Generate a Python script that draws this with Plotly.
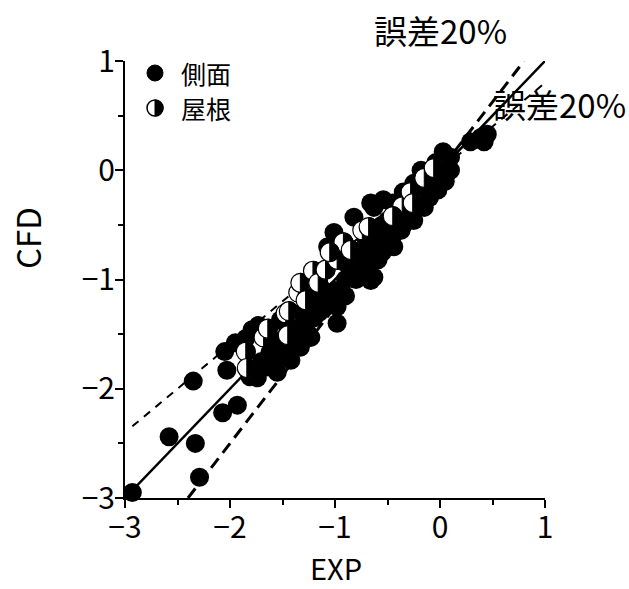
import plotly.graph_objects as go

# Measured (EXP) vs simulated (CFD) pressure coefficients
side_exp = [-2.93, -2.58, -2.33, -2.29, -2.35, -2.03, -2.07, -1.93, -2.05, -1.95,
            -1.85, -1.79, -1.73, -1.74, -1.81, -1.55, -1.42, -1.62, -1.52, -1.26,
            -1.33, -1.23, -0.98, -1.07, -0.98, -1.14, -1.14, -0.63, -0.66, -0.82,
            -0.69, -0.59, -0.44, -0.37, -0.25, -0.50, -0.40, -0.54, -0.15, -0.02,
            -0.25, -0.18, 0.10, -0.04, 0.10, 0.03, 0.29, 0.39, 0.45, 0.42,
            -0.63, -0.82, -1.01, -1.07, -0.66, -0.28, -1.50, -1.40, -1.30, -1.20,
            -1.10, -0.90, -0.80, -0.90, -0.70, -0.60, -0.50, -0.30, -0.10, 0.00,
            -1.60, -1.70, -1.45, -1.35, -1.00, -0.55, -0.33, -0.20, -1.65, -1.25,
            -1.00, -0.90, -0.80, -0.75, -0.70, -0.55, -0.45, -0.35, -0.30, -0.20,
            -0.10, 0.05, 0.00, -1.20, -1.30, -1.45, -1.60, -1.50, -0.65, -0.55,
            -0.45, -0.35, -0.20, -1.15]
side_cfd = [-2.95, -2.44, -2.50, -2.81, -1.93, -1.83, -2.22, -2.15, -1.66, -1.58,
            -1.54, -1.46, -1.42, -1.90, -1.89, -1.85, -1.74, -1.67, -1.37, -1.49,
            -1.62, -1.53, -1.40, -1.22, -1.25, -1.07, -1.22, -0.98, -1.01, -0.89,
            -0.80, -0.82, -0.70, -0.55, -0.46, -0.46, -0.37, -0.27, -0.34, -0.18,
            -0.12, 0.00, 0.00, 0.07, 0.12, 0.17, 0.26, 0.30, 0.33, 0.26,
            -0.34, -0.43, -0.57, -0.70, -0.30, -0.39, -1.55, -1.45, -1.30, -1.35,
            -1.15, -1.00, -0.75, -0.85, -0.65, -0.60, -0.60, -0.25, -0.10, -0.05,
            -1.60, -1.75, -1.65, -1.50, -1.10, -0.70, -0.45, -0.25, -1.80, -1.30,
            -1.20, -1.15, -1.00, -0.95, -0.90, -0.75, -0.60, -0.50, -0.45, -0.30,
            -0.25, -0.10, 0.00, -1.15, -1.40, -1.45, -1.75, -1.70, -0.70, -0.50,
            -0.30, -0.20, -0.15, -1.30]

roof_exp = [-1.85, -1.84, -1.68, -1.45, -1.47, -1.44, -1.35, -1.33, -1.28, -1.21,
            -1.16, -1.09, -0.98, -0.92, -0.85, -0.74, -0.68, -0.36, -0.28, -0.26,
            -0.15, -0.06, -1.64, -1.05, -0.45]
roof_cfd = [-1.66, -1.81, -1.53, -1.51, -1.31, -1.29, -1.12, -1.03, -1.19, -0.92,
            -1.03, -0.91, -0.82, -0.66, -0.73, -0.55, -0.52, -0.33, -0.20, -0.30,
            -0.07, 0.02, -1.45, -0.75, -0.42]

# Reference lines CFD = k * EXP (exact and +/-20 % error)
ref_slopes = [1.0, 0.8, 1.25]
ref_x_start = [-3.0, -2.93, -2.4]
ref_x_end = [1.0, 1.0, 0.8]
ref_styles = [dict(width=2.5, dash="solid"),
              dict(width=2, dash="8px,7px"),
              dict(width=3, dash="12px,7px")]

legend_labels = ["側面", "屋根"]
note_text = "誤差20%"
x_title = "EXP"
y_title = "CFD"

FONT = "Noto Sans CJK JP, sans-serif"
R = 9.5  # marker radius in px

# plot area in px (for placing text around it)
L, RGT, TOP, BOT = 125, 545, 61, 498


def dom_x(px):
    return (px - L) / (RGT - L)


def dom_y(py):
    return (BOT - py) / (BOT - TOP)


fig = go.Figure()

for k, x0, x1, st in zip(ref_slopes, ref_x_start, ref_x_end, ref_styles):
    fig.add_trace(go.Scatter(x=[x0, x1], y=[k * x0, k * x1], mode="lines",
                             line=dict(color="black", **st), showlegend=False,
                             hoverinfo="skip"))

fig.add_trace(go.Scatter(x=side_exp, y=side_cfd, mode="markers", name=legend_labels[0],
                         marker=dict(size=2 * R, color="black", line=dict(width=0)),
                         cliponaxis=False, showlegend=False))

# half-filled circle: white disc with black outline, right half black
kc = 0.5523 * R
half_path = (f"M 0,{-R} C {kc},{-R} {R},{-kc} {R},0 "
             f"C {R},{kc} {kc},{R} 0,{R} Z")

shapes = []
for xe, yc in zip(roof_exp, roof_cfd):
    common = dict(xref="x", yref="y", xsizemode="pixel", ysizemode="pixel",
                  xanchor=xe, yanchor=yc, layer="above")
    shapes.append(dict(type="circle", x0=-R, x1=R, y0=-R, y1=R,
                       fillcolor="white", line=dict(color="black", width=1.2), **common))
    shapes.append(dict(type="path", path=half_path, fillcolor="black",
                       line=dict(color="black", width=1), **common))

# legend
leg_x = dom_x(155)
leg_y = [dom_y(73), dom_y(108)]
lr = 8
lk = 0.5523 * lr
leg_half = (f"M 0,{-lr} C {lk},{-lr} {lr},{-lk} {lr},0 "
            f"C {lr},{lk} {lk},{lr} 0,{lr} Z")
lc = dict(xref="x domain", yref="y domain", xsizemode="pixel", ysizemode="pixel",
          layer="above")
shapes.append(dict(type="circle", x0=-lr, x1=lr, y0=-lr, y1=lr, xanchor=leg_x,
                   yanchor=leg_y[0], fillcolor="black", line=dict(color="black", width=1), **lc))
shapes.append(dict(type="circle", x0=-lr, x1=lr, y0=-lr, y1=lr, xanchor=leg_x,
                   yanchor=leg_y[1], fillcolor="white", line=dict(color="black", width=1.5), **lc))
shapes.append(dict(type="path", path=leg_half, xanchor=leg_x, yanchor=leg_y[1],
                   fillcolor="black", line=dict(color="black", width=1), **lc))

annotations = []


def note(text, px, py, size, anchor="center", angle=0):
    annotations.append(dict(x=dom_x(px), y=dom_y(py), xref="x domain", yref="y domain",
                            text=text, showarrow=False, xanchor=anchor, yanchor="middle",
                            textangle=angle,
                            font=dict(family=FONT, size=size, color="black")))


for lab, py in zip(legend_labels, [73, 108]):
    note(lab, 179, py, 25, anchor="left")
note(note_text, 440, 30, 33)
note(note_text, 559, 104, 33)
note(x_title, 336, 567, 29)
note(y_title, 27, 238, 33, angle=-90)

axis_common = dict(range=[-3, 1], dtick=1, showgrid=False, zeroline=False,
                   showline=True, linecolor="black", linewidth=2,
                   ticks="outside", ticklen=8, tickwidth=2, tickcolor="black",
                   minor=dict(dtick=0.5, ticks="outside", ticklen=5, tickwidth=2,
                              tickcolor="black"),
                   tickfont=dict(family=FONT, size=30, color="black"),
                   ticklabelstandoff=-6,
                   automargin=False)

fig.update_layout(
    width=629, height=589,
    margin=dict(l=L, r=629 - RGT, t=TOP, b=589 - BOT),
    plot_bgcolor="white", paper_bgcolor="white",
    xaxis=axis_common, yaxis=axis_common,
    shapes=shapes, annotations=annotations, showlegend=False,
)

fig.write_html("out.html")
